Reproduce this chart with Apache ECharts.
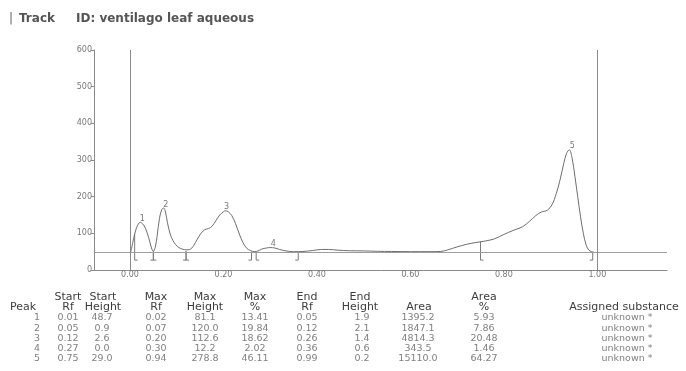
<!DOCTYPE html>
<html>
<head>
<meta charset="utf-8">
<script src="https://cdn.jsdelivr.net/npm/echarts@6/dist/echarts.min.js"></script>
<style>
  html, body { margin: 0; padding: 0; background: #fff; }
  #chart { width: 686px; height: 371px; }
</style>
</head>
<body>
<div id="chart"></div>
<script>
// Densitogram scan of the track (Rf vs. signal height, AU)
const rf = [0.002, 0.006, 0.010, 0.014, 0.018, 0.022, 0.027, 0.033, 0.040, 0.046, 0.050,
  0.054, 0.058, 0.063, 0.068, 0.072, 0.076, 0.080, 0.086, 0.092, 0.098, 0.105, 0.112, 0.120,
  0.128, 0.136, 0.144, 0.152, 0.160, 0.168, 0.176, 0.184, 0.192, 0.200, 0.204, 0.210, 0.218,
  0.226, 0.234, 0.242, 0.250, 0.258, 0.266, 0.274, 0.282, 0.292, 0.300, 0.310, 0.320, 0.334,
  0.350, 0.370, 0.390, 0.410, 0.425, 0.445, 0.470, 0.500, 0.530, 0.560, 0.600, 0.640, 0.665,
  0.680, 0.700, 0.720, 0.740, 0.760, 0.780, 0.800, 0.820, 0.840, 0.855, 0.868, 0.880, 0.893,
  0.903, 0.912, 0.920, 0.928, 0.934, 0.940, 0.946, 0.952, 0.958, 0.964, 0.970, 0.976, 0.982,
  0.988, 0.992];
const intensity = [50, 75, 98, 115, 126, 130, 126, 114, 88, 60, 51,
  62, 92, 140, 165, 169, 158, 130, 98, 80, 69, 61, 57, 55,
  56, 66, 84, 100, 110, 113, 120, 135, 150, 159, 161.6, 159, 148,
  126, 98, 74, 59, 53, 50, 52, 57, 60, 61.2, 60, 56, 52,
  50, 50.5, 53, 56, 56, 54, 52.5, 52, 51, 50.5, 50, 50, 50.5,
  55, 63, 70, 75, 79, 85, 97, 108, 118, 133, 148, 158, 163,
  178, 208, 245, 290, 318, 327.8, 305, 255, 200, 145, 100, 68, 54,
  50, 49.5];

const xTicks = [0, 0.2, 0.4, 0.6, 0.8, 1.0];
const yTicks = [0, 100, 200, 300, 400, 500, 600];
const baselineLevel = 49;
const rfLimits = [0, 1];

// Peak table
const peakNo = [1, 2, 3, 4, 5];
const startRf = [0.01, 0.05, 0.12, 0.27, 0.75];
const startHeight = [48.7, 0.9, 2.6, 0.0, 29.0];
const maxRf = [0.02, 0.07, 0.20, 0.30, 0.94];
const maxHeight = [81.1, 120.0, 112.6, 12.2, 278.8];
const maxPct = [13.41, 19.84, 18.62, 2.02, 46.11];
const endRf = [0.05, 0.12, 0.26, 0.36, 0.99];
const endHeight = [1.9, 2.1, 1.4, 0.6, 0.2];
const area = [1395.2, 1847.1, 4814.3, 343.5, 15110.0];
const areaPct = [5.93, 7.86, 20.48, 1.46, 64.27];
const substance = ['unknown *', 'unknown *', 'unknown *', 'unknown *', 'unknown *'];

const FONT = '"DejaVu Sans", Verdana, sans-serif';
const chart = echarts.init(document.getElementById('chart'), null, { renderer: 'canvas' });

const curve = rf.map((r, i) => [r, intensity[i]]);

// start / end markers of the integrated peaks
const markers = [];
peakNo.forEach((p, i) => {
  markers.push([startRf[i], baselineLevel + startHeight[i], 1]);
  markers.push([endRf[i], baselineLevel + endHeight[i], -1]);
});
const markerFoot = 27;

const peakTops = peakNo.map((p, i) => ({ value: [maxRf[i], baselineLevel + maxHeight[i]], name: String(p) }));

// table columns: header lines, centre x, cell text
const columns = [
  { head: ['', 'Peak'], hx: 23, vx: 37, cells: peakNo.map(String) },
  { head: ['Start', 'Rf'], hx: 68, vx: 68, cells: startRf.map(v => v.toFixed(2)) },
  { head: ['Start', 'Height'], hx: 103, vx: 102, cells: startHeight.map(v => v.toFixed(1)) },
  { head: ['Max', 'Rf'], hx: 156, vx: 156, cells: maxRf.map(v => v.toFixed(2)) },
  { head: ['Max', 'Height'], hx: 205, vx: 205, cells: maxHeight.map(v => v.toFixed(1)) },
  { head: ['Max', '%'], hx: 255, vx: 255, cells: maxPct.map(v => v.toFixed(2)) },
  { head: ['End', 'Rf'], hx: 307, vx: 307, cells: endRf.map(v => v.toFixed(2)) },
  { head: ['End', 'Height'], hx: 360, vx: 362, cells: endHeight.map(v => v.toFixed(1)) },
  { head: ['', 'Area'], hx: 419, vx: 418, cells: area.map(v => v.toFixed(1)) },
  { head: ['Area', '%'], hx: 484, vx: 484, cells: areaPct.map(v => v.toFixed(2)) },
  { head: ['', 'Assigned substance'], hx: 624, vx: 627, cells: substance }
];
const headY = [297, 307.5];
const rowY0 = 318, rowStep = 10.2;

const graphics = [
  { type: 'text', left: 9, top: 13, style: { text: '|', font: '12px ' + FONT, fill: '#666' } },
  { type: 'text', left: 19, top: 13, style: { text: 'Track', font: 'bold 12px ' + FONT, fill: '#555' } },
  { type: 'text', left: 76, top: 13, style: { text: 'ID: ventilago leaf aqueous', font: 'bold 12px ' + FONT, fill: '#555' } }
];
columns.forEach(col => {
  col.head.forEach((h, k) => {
    if (!h) return;
    graphics.push({ type: 'text', x: col.hx, y: headY[k],
      style: { text: h, font: '11px ' + FONT, fill: '#3c3c3c', align: 'center', verticalAlign: 'middle' } });
  });
  col.cells.forEach((c, r) => {
    graphics.push({ type: 'text', x: col.vx, y: rowY0 + r * rowStep,
      style: { text: c, font: '9.5px ' + FONT, fill: '#808080', align: 'center', verticalAlign: 'middle' } });
  });
});

chart.setOption({
  animation: false,
  backgroundColor: '#fff',
  grid: { left: 94, right: 19, top: 50, bottom: 101, outerBoundsMode: 'none' },
  xAxis: {
    type: 'value', min: -0.077, max: 1.149,
    axisLine: { show: true, onZero: false, lineStyle: { color: '#8a8a8a', width: 1 } },
    axisTick: { show: false },
    splitLine: { show: false },
    axisLabel: {
      customValues: xTicks, margin: 1, color: '#777', fontSize: 8, fontFamily: FONT,
      formatter: v => v.toFixed(2)
    }
  },
  yAxis: {
    type: 'value', min: yTicks[0], max: yTicks[yTicks.length - 1], interval: 100,
    axisLine: { show: true, onZero: false, lineStyle: { color: '#8a8a8a', width: 1 } },
    axisTick: { show: true, length: 3, lineStyle: { color: '#8a8a8a' } },
    splitLine: { show: false },
    axisLabel: { margin: 2, color: '#777', fontSize: 8, fontFamily: FONT }
  },
  graphic: graphics,
  series: [
    {
      type: 'line', data: curve, showSymbol: false, smooth: 0.35,
      lineStyle: { color: '#6e6e6e', width: 1 },
      markLine: {
        silent: true, symbol: 'none', label: { show: false },
        data: [
          { yAxis: baselineLevel, lineStyle: { color: '#9b9bab', width: 1, type: 'solid' } },
          { xAxis: rfLimits[0], lineStyle: { color: '#8a8a8a', width: 1, type: 'solid' } },
          { xAxis: rfLimits[1], lineStyle: { color: '#8a8a8a', width: 1, type: 'solid' } }
        ]
      }
    },
    {
      type: 'custom', data: markers, silent: true,
      renderItem: (params, api) => {
        const top = api.coord([api.value(0), api.value(1)]);
        const bot = api.coord([api.value(0), markerFoot]);
        const dir = api.value(2);
        return {
          type: 'polyline',
          shape: { points: [[top[0], top[1]], [bot[0], bot[1]], [bot[0] + dir * 3, bot[1]]] },
          style: { stroke: '#7a7a7a', lineWidth: 1, fill: null }
        };
      }
    },
    {
      type: 'scatter', data: peakTops, symbolSize: 1, itemStyle: { color: 'rgba(0,0,0,0)' },
      label: {
        show: true, position: 'top', distance: 0, offset: [3, 1],
        formatter: p => p.name, color: '#555', fontSize: 8, fontFamily: FONT
      }
    }
  ]
});
</script>
</body>
</html>
